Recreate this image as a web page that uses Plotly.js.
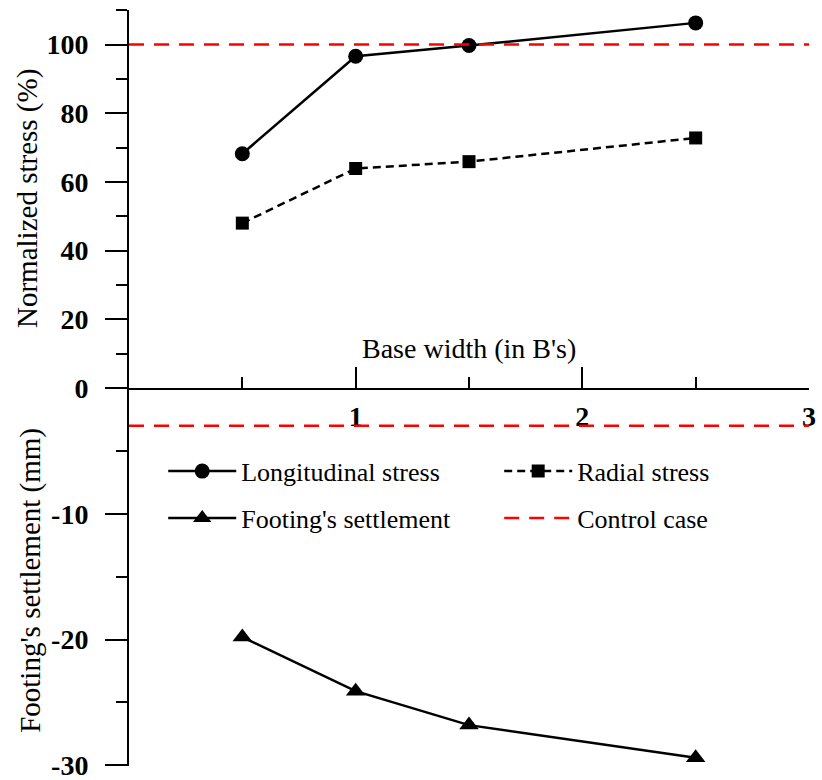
<!DOCTYPE html>
<html>
<head>
<meta charset="utf-8">
<script src="https://cdn.plot.ly/plotly-3.0.1.min.js"></script>
<style>html,body{margin:0;padding:0;background:#fff;}#chart{width:822px;height:780px;}</style>
</head>
<body>
<div id="chart"></div>
<script>
const baseWidth = [0.5, 1, 1.5, 2.5];
const longitudinalStress = [68.2, 96.6, 99.7, 106.3];
const radialStress = [48.0, 63.9, 65.9, 72.8];
const footingSettlement = [-19.8, -24.1, -26.8, -29.4];
const controlX = [0, 3];
const controlStress = [100, 100];
const controlSettlement = [-3, -3];
const stressTicks = [0, 20, 40, 60, 80, 100];
const stressMinor = [10, 30, 50, 70, 90, 110];
const settleTicks = [-30, -20, -10];
const settleTickText = ['-30', '-20', '-10'];
const settleMinor = [-25, -15, -5];
const xTicks = [1, 2, 3];
const xMinor = [0.5, 1.5, 2.5];

const serif = 'Liberation Serif, Times New Roman, serif';

const traces = [
  {x: baseWidth, y: longitudinalStress, name: 'Longitudinal stress', mode: 'lines+markers',
   xaxis: 'x', yaxis: 'y', legend: 'legend', legendgroup: 'a',
   line: {color: '#000', width: 2.5}, marker: {symbol: 'circle', size: 15, color: '#000'}},
  {x: baseWidth, y: radialStress, name: 'Radial stress', mode: 'lines+markers',
   xaxis: 'x', yaxis: 'y', legend: 'legend2', legendgroup: 'b',
   line: {color: '#000', width: 2.5, dash: '8px,5px'}, marker: {symbol: 'square', size: 13, color: '#000'}},
  {x: baseWidth, y: footingSettlement, name: "Footing's settlement", mode: 'lines+markers',
   xaxis: 'x', yaxis: 'y2', legend: 'legend', legendgroup: 'c',
   line: {color: '#000', width: 2.5}, marker: {symbol: 'triangle-up', size: 17, color: '#000'}},
  {x: controlX, y: controlStress, name: 'Control case', mode: 'lines',
   xaxis: 'x', yaxis: 'y', legend: 'legend2', legendgroup: 'd',
   line: {color: '#ff0000', width: 2.5, dash: '15px,10px'}},
  {x: controlX, y: controlSettlement, name: 'Control case', mode: 'lines', showlegend: false,
   xaxis: 'x', yaxis: 'y2', legendgroup: 'd',
   line: {color: '#ff0000', width: 2.5, dash: '15px,10px'}}
];

const legendCommon = {
  orientation: 'v', xanchor: 'left', yanchor: 'top', bgcolor: 'rgba(0,0,0,0)',
  font: {family: serif, size: 26, color: '#000'}, itemwidth: 68, tracegroupgap: 10,
  traceorder: 'grouped'
};

const layout = {
  width: 822, height: 780,
  margin: {l: 129, r: 13, t: 10, b: 14},
  paper_bgcolor: '#fff', plot_bgcolor: '#fff',
  font: {family: serif, color: '#000'},
  showlegend: true,
  legend: Object.assign({}, legendCommon, {x: 0.0503, y: 0.421}),
  legend2: Object.assign({}, legendCommon, {x: 0.5444, y: 0.421}),
  xaxis: {
    range: [0, 3], anchor: 'y', side: 'bottom', showgrid: false, zeroline: false,
    showline: true, linecolor: '#000', linewidth: 2,
    tickmode: 'array', tickvals: xTicks, ticks: 'inside', ticklen: 21, tickwidth: 2, tickcolor: '#000',
    tickfont: {family: serif, size: 28, weight: 'bold', color: '#000'}, ticklabelstandoff: 2,
    ticklabeloverflow: 'allow',
    minor: {tickmode: 'array', tickvals: xMinor, ticks: 'inside', ticklen: 11, tickwidth: 2, tickcolor: '#000'}
  },
  yaxis: {
    domain: [0.5, 1], range: [0, 110.05], anchor: 'x', showgrid: false, zeroline: false,
    showline: true, linecolor: '#000', linewidth: 2,
    tickmode: 'array', tickvals: stressTicks, ticks: 'outside', ticklen: 22, tickwidth: 2, tickcolor: '#000',
    tickfont: {family: serif, size: 28, weight: 'bold', color: '#000'}, ticklabelstandoff: 11,
    ticklabeloverflow: 'allow',
    minor: {tickmode: 'array', tickvals: stressMinor, ticks: 'outside', ticklen: 11, tickwidth: 2, tickcolor: '#000'}
  },
  yaxis2: {
    domain: [0, 0.5], range: [-30.05, 0], anchor: 'x', showgrid: false, zeroline: false,
    showline: true, linecolor: '#000', linewidth: 2,
    tickmode: 'array', tickvals: settleTicks, ticktext: settleTickText, ticks: 'outside', ticklen: 22, tickwidth: 2, tickcolor: '#000',
    tickfont: {family: serif, size: 28, weight: 'bold', color: '#000'}, ticklabelstandoff: 11,
    ticklabeloverflow: 'allow',
    minor: {tickmode: 'array', tickvals: settleMinor, ticks: 'outside', ticklen: 11, tickwidth: 2, tickcolor: '#000'}
  },
  annotations: [
    {text: "Base width (in B's)", xref: 'paper', yref: 'paper', x: 0.5, y: 0.5516,
     xanchor: 'center', yanchor: 'middle', showarrow: false,
     font: {family: serif, size: 28, color: '#000'}},
    {text: 'Normalized stress (%)', xref: 'paper', yref: 'paper', x: -0.15, y: 0.75,
     xanchor: 'center', yanchor: 'middle', textangle: -90, showarrow: false,
     font: {family: serif, size: 29, color: '#000'}},
    {text: "Footing's settlement (mm)", xref: 'paper', yref: 'paper', x: -0.144, y: 0.245,
     xanchor: 'center', yanchor: 'middle', textangle: -90, showarrow: false,
     font: {family: serif, size: 29, color: '#000'}}
  ]
};

Plotly.newPlot('chart', traces, layout, {displayModeBar: false, staticPlot: true});
</script>
</body>
</html>
